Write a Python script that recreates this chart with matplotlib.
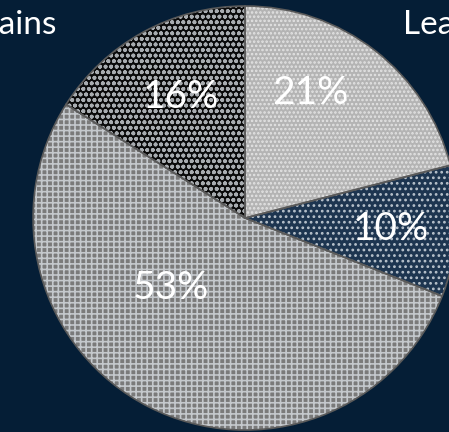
import matplotlib.pyplot as plt
import numpy as np

# diet breakdown, clockwise from twelve o'clock
shares = [21, 10, 53, 16]
pct_labels = ['21%', '10%', '53%', '16%']
outer_names = ['Leaves', 'Grains']

bg = '#051e36'
face_colors = ['#b4b4b4', '#1d3550', '#7a7a7a', '#0a0a0a']
hatch_colors = ['#e4e4e4', '#b8c2cc', '#c4c8cc', '#a8acb0']
hatches = ['....', '...', '+++', 'ooo']

plt.rcParams['font.family'] = ['Lato', 'DejaVu Sans']
plt.rcParams['hatch.linewidth'] = 1.2

fig = plt.figure(figsize=(4.49, 4.32), dpi=100, facecolor=bg)
ax = fig.add_axes([0, 0, 1, 1])
ax.set_facecolor(bg)

# filled, patterned wedges
wedges, _ = ax.pie(shares, startangle=90, counterclock=False,
                   colors=face_colors, radius=1.0,
                   wedgeprops=dict(linewidth=0))
for w, h, hc in zip(wedges, hatches, hatch_colors):
    w.set_hatch(h)
    w.set_edgecolor(hc)
    w.set_linewidth(0)

# outline drawn on top so edges stay gray
outline, _ = ax.pie(shares, startangle=90, counterclock=False, radius=1.0,
                    wedgeprops=dict(fill=False, edgecolor='#5a5a5a', linewidth=1.2))

# percentage labels
label_pos = [(0.31, 0.59), (0.69, -0.05), (-0.35, -0.33), (-0.30, 0.57)]
for txt, (x, y) in zip(pct_labels, label_pos):
    ax.text(x, y, txt, ha='center', va='center', color='white',
            fontsize=28)

ax.text(0.745, 0.91, outer_names[0], ha='left', va='center', color='white',
        fontsize=24)
ax.text(-0.887, 0.91, outer_names[1], ha='right', va='center', color='white',
        fontsize=24)

ax.set_xlim(-1.156, 0.962)
ax.set_ylim(-1.009, 1.028)
ax.set_aspect('equal')
ax.axis('off')

fig.savefig('out.png', dpi=100, facecolor=bg)
